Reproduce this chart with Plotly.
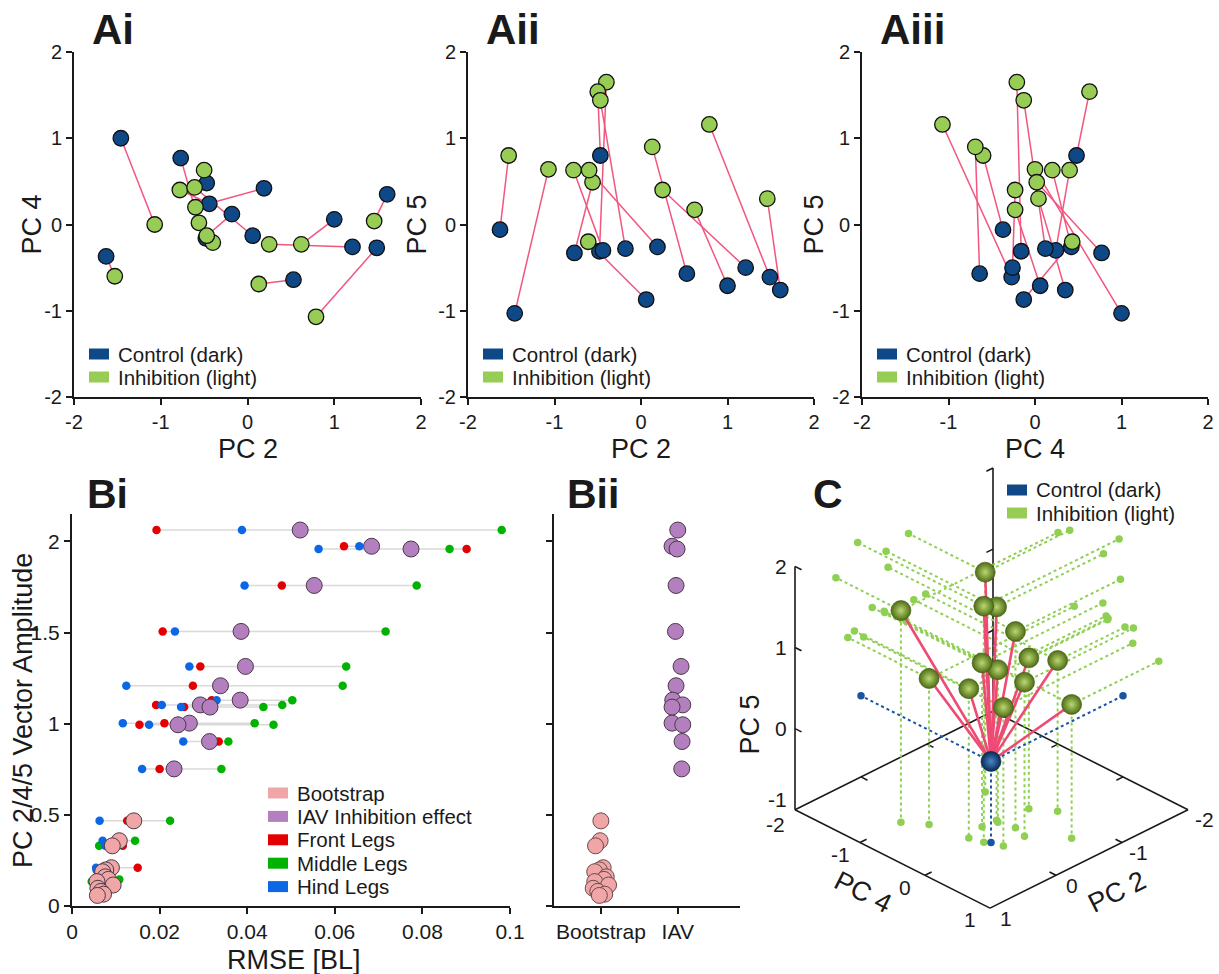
import plotly.graph_objects as go

W, H = 1219, 974
FONT = "Liberation Sans, Arial, Helvetica, sans-serif"
INK = "#1a1a1a"

# ---------------------------------------------------------------
# PC scores per animal: control (dark) and inhibition (light)
# ---------------------------------------------------------------
ctrl_pc2 = [-1.63, -1.46, 1.49, 1.61, 0.53, 1.21, 1.00, -0.48, -0.77, 0.19, -0.47, -0.44, -0.18, 0.06]
ctrl_pc4 = [-0.37, 1.00, -0.27, 0.35, -0.64, -0.26, 0.06, -0.16, 0.77, 0.42, 0.48, 0.24, 0.12, -0.13]
ctrl_pc5 = [-0.06, -1.03, -0.61, -0.76, -0.57, -0.50, -0.71, -0.31, -0.33, -0.26, 0.80, -0.30, -0.28, -0.87]
inh_pc2 = [-1.53, -1.07, 0.79, 1.46, 0.13, 0.25, 0.62, -0.40, -0.56, -0.60, -0.50, -0.78, -0.47, -0.61]
inh_pc4 = [-0.60, 0.00, -1.07, 0.04, -0.69, -0.23, -0.23, -0.21, 0.02, 0.20, 0.63, 0.40, -0.13, 0.43]
inh_pc5 = [0.80, 0.64, 1.16, 0.30, 0.90, 0.40, 0.17, 1.65, 0.49, 0.63, 1.54, 0.63, 1.44, -0.20]

# inhibition effect vectors (inhibition minus control) for the 3-D view
eff_pc4 = [-0.24, -1.00, -0.82, -0.31, -0.04, 0.03, -0.26, -0.06, -0.75, -0.23, 0.15, 0.16, -0.30, 0.55]
eff_pc2 = [0.10, 0.38, -0.72, -0.17, -0.41, -0.98, -0.36, 0.05, 0.20, -0.80, -0.04, -0.35, -0.38, -0.68]
eff_pc5 = [0.84, 1.61, 1.71, 1.02, 1.42, 0.86, 0.88, 1.91, 0.80, 0.86, 0.71, 0.90, 1.63, 0.65]

# ---------------------------------------------------------------
# Vector amplitude vs. RMSE of leg kinematics
# ---------------------------------------------------------------
iav_amp = [2.062, 1.973, 1.958, 1.758, 1.506, 1.314, 1.208, 1.129, 1.103, 1.091, 1.003, 0.994, 0.902, 0.752]
iav_rmse = [0.0521, 0.0684, 0.0774, 0.0553, 0.0386, 0.0396, 0.0339, 0.0384, 0.0293, 0.0315, 0.0268, 0.0242, 0.0314, 0.0233]
iav_front = [0.0193, 0.0621, 0.0901, 0.0479, 0.0207, 0.0293, 0.0276, 0.0319, 0.0192, 0.0256, 0.0211, 0.0154, 0.0335, 0.0200]
iav_middle = [0.0981, 0.0690, 0.0862, 0.0787, 0.0716, 0.0626, 0.0618, 0.0503, 0.0480, 0.0437, 0.0417, 0.0460, 0.0357, 0.0341]
iav_hind = [0.0388, 0.0656, 0.0563, 0.0394, 0.0235, 0.0268, 0.0124, 0.0330, 0.0205, 0.0249, 0.0116, 0.0176, 0.0254, 0.0160]

boot_amp = [0.467, 0.358, 0.330, 0.210, 0.198, 0.188, 0.160, 0.146, 0.134, 0.115, 0.097, 0.080, 0.065, 0.058]
boot_rmse = [0.0141, 0.0108, 0.0092, 0.0090, 0.0077, 0.0070, 0.0076, 0.0083, 0.0057, 0.0094, 0.0059, 0.0066, 0.0072, 0.0058]
boot_front = [0.0126, 0.0100, 0.0116, 0.0150, 0.0080, 0.0072, 0.0078, 0.0088, 0.0062, 0.0096, 0.0063, 0.0070, 0.0075, 0.0060]
boot_middle = [0.0224, 0.0144, 0.0062, 0.0082, 0.0074, 0.0066, 0.0072, 0.0108, 0.0045, 0.0090, 0.0058, 0.0064, 0.0070, 0.0057]
boot_hind = [0.0063, 0.0070, 0.0076, 0.0055, 0.0056, 0.0060, 0.0066, 0.0075, 0.0052, 0.0085, 0.0056, 0.0062, 0.0068, 0.0054]

# tick labels
pc_ticks = [-2, -1, 0, 1, 2]
pc_tick_text = ["-2", "-1", "0", "1", "2"]
rmse_ticks = [0, 0.02, 0.04, 0.06, 0.08, 0.1]
rmse_tick_text = ["0", "0.02", "0.04", "0.06", "0.08", "0.1"]
amp_ticks = [0, 0.5, 1, 1.5, 2]
amp_tick_text = ["0", "0.5", "1", "1.5", "2"]
group_names = ["Bootstrap", "IAV"]

# strip-plot horizontal spread (category units)
boot_spread = [0.0, -0.01, -0.07, 0.03, -0.02, -0.08, 0.07, 0.04, -0.08, 0.10, -0.10, -0.04, 0.05, -0.02]
iav_spread = [0.0, -0.074, -0.009, -0.022, -0.03, 0.043, -0.022, -0.065, 0.065, -0.074, -0.074, 0.065, 0.056, 0.052]

# colours
BLUE = "#0e4887"
GREEN = "#98cd55"
LINK = "#f2567f"
PURPLE = "#b47fbe"
PINK = "#f0a6a6"
RED = "#e40000"
MID = "#00b300"
HIND = "#0b67e6"
GRAY = "#d9d9d9"


def fx(p):
    return p / W


def fy(p):
    return 1 - p / H


fig = go.Figure()
annotations = []
shapes = []

AX = dict(showline=True, linecolor=INK, linewidth=2, ticks="outside", ticklen=6,
          tickwidth=1.5, tickcolor=INK, showgrid=False, zeroline=False, automargin=False,
          tickfont=dict(family=FONT, size=20, color=INK), fixedrange=True)
layout_axes = {}


def text(s, x, y, size, xanchor="center", yanchor="middle", angle=0, bold=False, xref="paper", yref="paper"):
    annotations.append(dict(
        text=f"<b>{s}</b>" if bold else s, x=x, y=y, xref=xref, yref=yref,
        xanchor=xanchor, yanchor=yanchor, textangle=angle, showarrow=False,
        font=dict(family=FONT, size=size, color=INK)))


def legend_block(x_left, y_first, labels, colors, dy, size):
    for i, (lab, col) in enumerate(zip(labels, colors)):
        yc = y_first + i * dy
        shapes.append(dict(type="rect", xref="paper", yref="paper",
                           x0=fx(x_left), x1=fx(x_left + 20), y0=fy(yc + 5.5), y1=fy(yc - 5.5),
                           fillcolor=col, line=dict(width=0)))
        text(lab, fx(x_left + 27), fy(yc), size, xanchor="left")


def pairs(x0, y0, x1, y1):
    xs, ys = [], []
    for a, b, c, d in zip(x0, y0, x1, y1):
        xs += [a, c, None]
        ys += [b, d, None]
    return xs, ys


# ---------------- Panels Ai, Aii, Aiii ----------------
a_boxes = [(74, 421), (468, 814), (862, 1208)]
a_top, a_bot = 52, 397
a_sets = [
    (ctrl_pc2, ctrl_pc4, inh_pc2, inh_pc4, "PC 2", "PC 4", "Ai", 31),
    (ctrl_pc2, ctrl_pc5, inh_pc2, inh_pc5, "PC 2", "PC 5", "Aii", 416),
    (ctrl_pc4, ctrl_pc5, inh_pc4, inh_pc5, "PC 4", "PC 5", "Aiii", 813),
]
for k, ((left, right), (cx, cy, ix, iy, xt, yt, lab, ytx)) in enumerate(zip(a_boxes, a_sets), start=1):
    xa = "x" if k == 1 else f"x{k}"
    ya = "y" if k == 1 else f"y{k}"
    lx, ly = pairs(cx, cy, ix, iy)
    fig.add_trace(go.Scatter(x=lx, y=ly, mode="lines", line=dict(color=LINK, width=1.5),
                             xaxis=xa, yaxis=ya, hoverinfo="skip"))
    fig.add_trace(go.Scatter(x=cx, y=cy, mode="markers", xaxis=xa, yaxis=ya,
                             marker=dict(size=15.5, color=BLUE, line=dict(color="#111", width=1.3))))
    fig.add_trace(go.Scatter(x=ix, y=iy, mode="markers", xaxis=xa, yaxis=ya,
                             marker=dict(size=15.5, color=GREEN, line=dict(color="#111", width=1.3))))
    layout_axes["xaxis" if k == 1 else f"xaxis{k}"] = dict(
        AX, domain=[fx(left), fx(right)], range=[-2, 2], anchor=ya,
        tickvals=pc_ticks, ticktext=pc_tick_text)
    layout_axes["yaxis" if k == 1 else f"yaxis{k}"] = dict(
        AX, domain=[fy(a_bot), fy(a_top)], range=[-2, 2], anchor=xa,
        tickvals=pc_ticks, ticktext=pc_tick_text)
    text(xt, fx((left + right) / 2), fy(449), 27)
    text(yt, fx(ytx), fy((a_top + a_bot) / 2), 27, angle=-90)
    text(lab, fx(left + 16), fy(30), 42, xanchor="left", bold=True)
    legend_block(left + 15, 354, ["Control (dark)", "Inhibition (light)"], [BLUE, GREEN], 23, 20.5)

# ---------------- Panel Bi ----------------
b_top, b_bot = 514, 906
rows = [(iav_amp, iav_rmse, iav_front, iav_middle, iav_hind, PURPLE),
        (boot_amp, boot_rmse, boot_front, boot_middle, boot_hind, PINK)]
for amp, main, fr, md, hd, col in rows:
    gx, gy = [], []
    for y, *vals in zip(amp, main, fr, md, hd):
        gx += [min(vals), max(vals), None]
        gy += [y, y, None]
    fig.add_trace(go.Scatter(x=gx, y=gy, mode="lines", line=dict(color=GRAY, width=1.5),
                             xaxis="x4", yaxis="y4", hoverinfo="skip"))
    for vals, c in ((fr, RED), (md, MID), (hd, HIND)):
        fig.add_trace(go.Scatter(x=vals, y=amp, mode="markers", xaxis="x4", yaxis="y4",
                                 marker=dict(size=8.5, color=c, line=dict(width=0))))
    fig.add_trace(go.Scatter(x=main, y=amp, mode="markers", xaxis="x4", yaxis="y4",
                             marker=dict(size=16, color=col, line=dict(color="#4a3a48", width=1))))

layout_axes["xaxis4"] = dict(AX, domain=[fx(72), fx(510)], range=[0, 0.1], anchor="y4",
                             tickvals=rmse_ticks, ticktext=rmse_tick_text,
                             tickfont=dict(family=FONT, size=21, color=INK))
layout_axes["yaxis4"] = dict(AX, domain=[fy(b_bot), fy(b_top)], range=[0, 2.15], anchor="x4",
                             tickvals=amp_ticks, ticktext=amp_tick_text,
                             tickfont=dict(family=FONT, size=21, color=INK))
text("RMSE [BL]", fx(294), fy(960), 27)
text("PC 2/4/5 Vector Amplitude", fx(23), fy(711), 27, angle=-90)
text("Bi", fx(85), fy(494), 41, xanchor="left", bold=True)
legend_block(268, 793, ["Bootstrap", "IAV Inhibition effect", "Front Legs", "Middle Legs", "Hind Legs"],
             [PINK, PURPLE, RED, MID, HIND], 23.4, 20.5)

# ---------------- Panel Bii ----------------
fig.add_trace(go.Scatter(x=[0 + s for s in boot_spread], y=boot_amp, mode="markers",
                         xaxis="x5", yaxis="y5",
                         marker=dict(size=16, color=PINK, line=dict(color="#6a4a4a", width=1))))
fig.add_trace(go.Scatter(x=[1 + s for s in iav_spread], y=iav_amp, mode="markers",
                         xaxis="x5", yaxis="y5",
                         marker=dict(size=16, color=PURPLE, line=dict(color="#4a3a48", width=1))))
layout_axes["xaxis5"] = dict(AX, domain=[fx(554), fx(740)], range=[-0.61, 1.81], anchor="y5",
                             tickvals=[0, 1], ticktext=group_names,
                             tickfont=dict(family=FONT, size=21, color=INK))
layout_axes["yaxis5"] = dict(AX, domain=[fy(b_bot), fy(b_top)], range=[0, 2.15], anchor="x5",
                             tickvals=amp_ticks, showticklabels=False)
text("Bii", fx(565), fy(494), 41, xanchor="left", bold=True)

# ---------------- Panel C: oblique 3-D view ----------------
pc4_lim = [-2, 1]
pc2_lim = [-2, 1]
pc5_lim = [-1, 2]
FLOOR0 = (991.0, 842.5)     # screen position of (PC4=0, PC2=0) on the floor
STEP4 = (65.0, 32.8)        # screen step for +1 in PC4
STEP2 = (-66.0, 32.8)       # screen step for +1 in PC2
STEP5 = 81.1                # screen step for +1 in PC5 (upwards)


def proj(a, b, c):
    return (FLOOR0[0] + a * STEP4[0] + b * STEP2[0],
            FLOOR0[1] + a * STEP4[1] + b * STEP2[1] - (c - pc5_lim[0]) * STEP5)


def seg_trace(segs, **kw):
    xs, ys = [], []
    for p, q in segs:
        x0, y0 = proj(*p)
        x1, y1 = proj(*q)
        xs += [x0, x1, None]
        ys += [y0, y1, None]
    return go.Scatter(x=xs, y=ys, mode="lines", xaxis="x6", yaxis="y6", hoverinfo="skip", **kw)


def pt_trace(pts, **kw):
    xy = [proj(*p) for p in pts]
    return go.Scatter(x=[q[0] for q in xy], y=[q[1] for q in xy], mode="markers",
                      xaxis="x6", yaxis="y6", hoverinfo="skip", **kw)


a0, a1 = pc4_lim
b0, b1 = pc2_lim
c0, c1 = pc5_lim
frame = [((a0, b1, c0), (a1, b1, c0)), ((a1, b1, c0), (a1, b0, c0)),
         ((a1, b0, c0), (a0, b0, c0)), ((a0, b0, c0), (a0, b1, c0)),
         ((a0, b1, c0), (a0, b1, c1)), ((a0, b0, c0), (a0, b0, c1))]
tk = 0.1
for c in [0, 1, 2]:
    frame.append(((a0, b1, c), (a0 + tk, b1, c)))
    frame.append(((a0, b0, c), (a0, b0 + tk, c)))
for v in [-1, 0]:
    frame.append(((v, b1, c0), (v, b1 - tk, c0)))
    frame.append(((a1, v, c0), (a1 - tk, v, c0)))
    frame.append(((a0, v, c0), (a0 + tk, v, c0)))
    frame.append(((v, b0, c0), (v, b0 + tk, c0)))
fig.add_trace(seg_trace(frame, line=dict(color=INK, width=1.6)))

origin = (0.0, 0.0, 0.0)
effects = list(zip(eff_pc4, eff_pc2, eff_pc5))


def drops(p):
    a, b, c = p
    return [(a, b, c0), (a0, b, c), (a, b0, c)]


g_segs, g_pts = [], []
for p in effects:
    for q in drops(p):
        g_segs.append((p, q))
        g_pts.append(q)
fig.add_trace(seg_trace(g_segs, line=dict(color="#8fd052", width=2, dash="dot")))
fig.add_trace(pt_trace(g_pts, marker=dict(size=7.5, color="#8fd052")))
o_segs = [(origin, q) for q in drops(origin)]
fig.add_trace(seg_trace(o_segs, line=dict(color="#1a55a3", width=2, dash="dot")))
fig.add_trace(pt_trace(drops(origin), marker=dict(size=7.5, color="#1a55a3")))

fig.add_trace(seg_trace([(origin, p) for p in effects], line=dict(color="#ee4a74", width=2.6)))
fig.add_trace(pt_trace([origin], marker=dict(size=20, color="#072a55",
                                             gradient=dict(type="radial", color="#4a86c8"),
                                             line=dict(color="#06203f", width=0.6))))
order = sorted(range(len(effects)), key=lambda i: effects[i][0] + effects[i][1])
fig.add_trace(pt_trace([effects[i] for i in order],
                       marker=dict(size=20, color="#4d6c14",
                                   gradient=dict(type="radial", color="#bcd872"),
                                   line=dict(color="#3d5510", width=0.6))))

layout_axes["xaxis6"] = dict(domain=[fx(740), 1], range=[740, W], visible=False,
                             fixedrange=True, anchor="y6", automargin=False)
layout_axes["yaxis6"] = dict(domain=[0, fy(462)], range=[H, 462], visible=False,
                             fixedrange=True, anchor="x6", automargin=False)

# the lowest PC 5 label and the first PC 4 label share the left corner
pc5_nudge = {-1: -10}
pc4_nudge = {-2: 3}
for c in [-1, 0, 1, 2]:
    x, y = proj(a0, b1, c)
    text(str(c), x - 6, y + pc5_nudge.get(c, 0), 21, xanchor="right", xref="x6", yref="y6")
for a in [-2, -1, 0, 1]:
    x, y = proj(a, b1 + 0.3, c0)
    text(str(a), x, y + 2 + pc4_nudge.get(a, 0), 21, xref="x6", yref="y6")
for b in [1, 0, -1, -2]:
    x, y = proj(a1 + 0.25, b, c0)
    text(str(b), x, y + 2, 21, xref="x6", yref="y6")
x, y = proj(-0.22, 1.73, c0)
text("PC 4", x, y, 27, angle=26.8, xref="x6", yref="y6")
x, y = proj(1.72, -0.21, c0)
text("PC 2", x, y, 27, angle=-26.5, xref="x6", yref="y6")
x, y = proj(a0, b1, 0.05)
text("PC 5", x - 45, y, 27, angle=-90, xref="x6", yref="y6")
text("C", fx(811), fy(494), 41, xanchor="left", bold=True)
legend_block(1007, 490, ["Control (dark)", "Inhibition (light)"], [BLUE, GREEN], 23, 20.5)

fig.update_layout(
    width=W, height=H, margin=dict(l=0, r=0, t=0, b=0, pad=0),
    paper_bgcolor="white", plot_bgcolor="rgba(0,0,0,0)", showlegend=False,
    font=dict(family=FONT, color=INK), annotations=annotations, shapes=shapes,
    **layout_axes)

fig.write_html("out.html")
